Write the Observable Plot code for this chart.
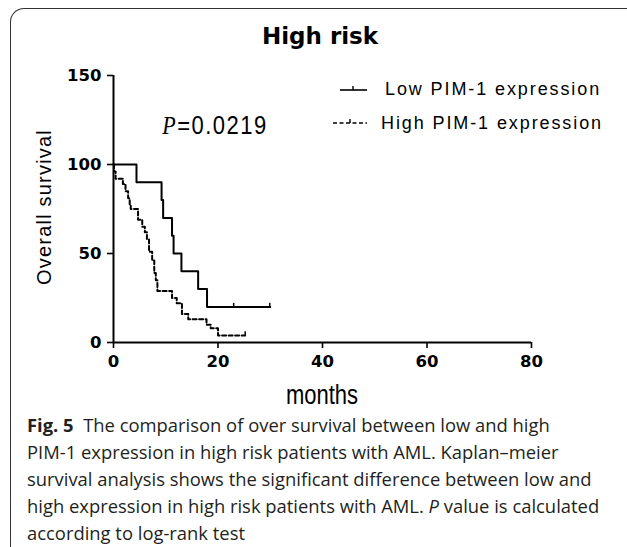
<!DOCTYPE html>
<html>
<head>
<meta charset="utf-8">
<script src="https://cdn.jsdelivr.net/npm/d3@7"></script>
<script src="https://cdn.jsdelivr.net/npm/@observablehq/plot@0.6"></script>
<style>
  html, body { margin: 0; padding: 0; background: #fff; }
  #wrap { position: relative; width: 627px; height: 547px; overflow: hidden; background: #fff; }
  #frame { position: absolute; left: 10px; top: 8px; width: 700px; height: 600px;
           border-left: 1.5px solid #333; border-top: 1.5px solid #333; border-top-left-radius: 14px; }
  #chart { position: absolute; left: 0; top: 0; }
  .t { position: absolute; white-space: nowrap; color: #000; transform: translate(-50%, -50%); }
  #title { left: 320px; top: 36px; font: bold 23px "DejaVu Sans"; }
  #ylab { left: 44px; top: 207px; font: 20px "Liberation Sans"; letter-spacing: 1.2px;
          transform: translate(-50%, -50%) rotate(-90deg); }
  #xlab { left: 322px; top: 395px; font: 22px "Liberation Sans"; transform: translate(-50%, -50%) scaleY(1.25); }
  #pval { left: 215px; top: 126px; font: 22px "Liberation Sans"; letter-spacing: 1.5px;
          transform: translate(-50%, -50%) scaleY(1.15); }
  #pval i { font-family: "Liberation Serif"; }
  .leg { position: absolute; white-space: nowrap; font: 18px "Liberation Sans"; letter-spacing: 1.9px;
         transform: translateY(-50%); }
  #legsvg { position: absolute; left: 330px; top: 80px; }
  #caption { position: absolute; left: 27px; top: 411px; font: 18.4px "Open Sans"; line-height: 27px; color: #231f20; white-space: nowrap; }
</style>
</head>
<body>
<div id="wrap">
  <div id="frame"></div>
  <div id="chart"></div>
  <div class="t" id="title">High risk</div>
  <div class="t" id="ylab">Overall survival</div>
  <div class="t" id="xlab">months</div>
  <div class="t" id="pval"></div>
  <div id="legend"></div>
  <div id="caption"></div>
</div>
<script>
// ---- data ----
const seriesNames = ["Low PIM-1 expression", "High PIM-1 expression"];
const lowTime = [0, 4.4, 9.2, 9.5, 11.2, 11.5, 13.0, 16.2, 17.9, 30];
const lowSurv = [100, 90, 80, 70, 60, 50, 40, 30, 20, 20];
const lowCensorTime = [23.0, 29.9];
const lowCensorSurv = [20, 20];
const highTime = [0, 0.1, 0.4, 1.8, 2.3, 2.8, 3.1, 3.3, 4.7, 5.5, 6.0, 6.4, 6.8, 7.4, 7.8, 8.1, 8.4, 11.2, 12.1, 13.1, 14.3, 17.8, 18.6, 20.0, 25.2];
const highSurv = [100, 96, 92, 89, 85, 81, 77, 75, 69, 65, 62, 58, 51, 46, 39, 35, 29, 25, 22, 16, 13, 10, 8, 4, 4];
const highCensorTime = [25.2];
const highCensorSurv = [4];
const xTicks = [0, 20, 40, 60, 80];
const yTicks = [0, 50, 100, 150];
const pText = "=0.0219";
const captionLines = [
  "<b>Fig. 5</b>&nbsp; The comparison of over survival between low and high",
  "PIM-1 expression in high risk patients with AML. Kaplan\u2013meier",
  "survival analysis shows the significant difference between low and",
  "high expression in high risk patients with AML. <i>P</i> value is calculated",
  "according to log-rank test"
];

const lowData = lowTime.map((t, i) => ({t, s: lowSurv[i]}));
const highData = highTime.map((t, i) => ({t, s: highSurv[i]}));
const lowCens = lowCensorTime.map((t, i) => ({t, s: lowCensorSurv[i]}));
const highCens = highCensorTime.map((t, i) => ({t, s: highCensorSurv[i]}));

const chart = Plot.plot({
  width: 627,
  height: 410,
  marginLeft: 113,
  marginRight: 96,
  marginTop: 75,
  marginBottom: 68,
  x: {domain: [0, 80]},
  y: {domain: [0, 150]},
  style: {fontFamily: "DejaVu Sans", fontWeight: "bold", fontSize: "16.5px", color: "#000", background: "transparent", overflow: "visible"},
  marks: [
    Plot.axisY({ticks: yTicks, tickSize: 6, tickPadding: 6, label: null, strokeWidth: 1.6}),
    Plot.axisX({ticks: xTicks, tickSize: 6, tickPadding: 7, label: null, strokeWidth: 1.6}),
    Plot.ruleX([0], {y1: 0, y2: 150, strokeWidth: 2}),
    Plot.ruleY([0], {x1: 0, x2: 80, strokeWidth: 2}),
    Plot.line(lowData, {x: "t", y: "s", curve: "step-after", stroke: "#000", strokeWidth: 2}),
    Plot.line(highData, {x: "t", y: "s", curve: "step-after", stroke: "#000", strokeWidth: 2, strokeDasharray: "4,2.5"}),
    Plot.ruleX(lowCens, {x: "t", y1: "s", y2: d => d.s + 2, strokeWidth: 1.5}),
    Plot.ruleX(highCens, {x: "t", y1: "s", y2: d => d.s + 2, strokeWidth: 1.5})
  ]
});
document.getElementById("chart").appendChild(chart);

document.getElementById("pval").innerHTML = "<i>P</i>" + pText;

// legend
const legend = document.getElementById("legend");
legend.innerHTML = `
<svg id="legsvg" width="45" height="55">
  <line x1="10" x2="37" y1="10" y2="10" stroke="#000" stroke-width="1.6"/>
  <line x1="23" x2="23" y1="10" y2="6" stroke="#000" stroke-width="1.4"/>
  <line x1="3" x2="37" y1="43" y2="43" stroke="#000" stroke-width="1.6" stroke-dasharray="4,2.5"/>
  <line x1="20" x2="20" y1="43" y2="39" stroke="#000" stroke-width="1.4"/>
</svg>
<div class="leg" style="left:385px; top:89px">${seriesNames[0]}</div>
<div class="leg" style="left:381px; top:123px">${seriesNames[1]}</div>`;

document.getElementById("caption").innerHTML = captionLines.join("<br>");
</script>
</body>
</html>
